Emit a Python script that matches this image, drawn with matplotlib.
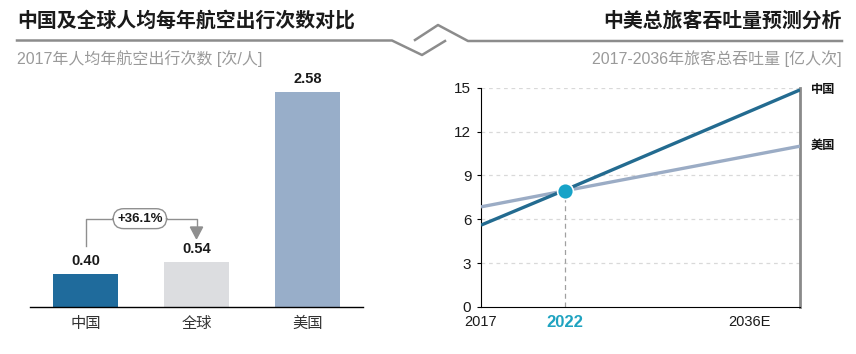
import matplotlib
matplotlib.use("Agg")
import matplotlib.pyplot as plt
from matplotlib.patches import Polygon
from matplotlib.lines import Line2D

plt.rcParams['font.family'] = ['Liberation Sans Narrow', 'Liberation Sans', 'Noto Sans CJK SC', 'DejaVu Sans']

# ---- data ----
bar_categories = ["中国", "全球", "美国"]
bar_values = [0.40, 0.54, 2.58]
bar_labels = ["0.40", "0.54", "2.58"]
growth_label = "+36.1%"

line_years = [2017, 2022, 2036]
china_values = [5.6, 8.0, 14.85]
us_values = [6.85, 7.95, 11.0]
highlight_year = 2022
highlight_value = 7.95
y_ticks = [0, 3, 6, 9, 12, 15]
x_tick_pos = [2017, 2022, 2033]
x_tick_labels = ["2017", "2022", "2036E"]

left_title = "中国及全球人均每年航空出行次数对比"
left_sub = "2017年人均年航空出行次数 [次/人]"
right_title = "中美总旅客吞吐量预测分析"
right_sub = "2017-2036年旅客总吞吐量 [亿人次]"

W, H = 856, 354
fig = plt.figure(figsize=(W / 100, H / 100), dpi=100)

def rect(x0, y_top, x1, y_bot):
    return [x0 / W, 1 - y_bot / H, (x1 - x0) / W, (y_bot - y_top) / H]

def fx(x):
    return x / W

def fy(y):
    return 1 - y / H

# ---- header lines ----
gray = "#8c8c8c"
fig.add_artist(Line2D([fx(17), fx(392), fx(422), fx(445)], [fy(40.5), fy(40.5), fy(55), fy(41)],
                      color=gray, lw=1.8, transform=fig.transFigure))
fig.add_artist(Line2D([fx(415), fx(438), fx(468), fx(842)], [fy(40), fy(25), fy(41), fy(41)],
                      color=gray, lw=1.8, transform=fig.transFigure))

fig.text(fx(17), fy(21), left_title, fontsize=14.3, fontweight='bold', color="#1a1a1a",
         ha='left', va='center')
fig.text(fx(842), fy(21), right_title, fontsize=14.3, fontweight='bold', color="#1a1a1a",
         ha='right', va='center')
fig.text(fx(17), fy(59), left_sub, fontsize=11.5, color="#9a9a9a", ha='left', va='center')
fig.text(fx(842), fy(59), right_sub, fontsize=11.5, color="#9a9a9a", ha='right', va='center')

# ---- bar chart ----
ax1 = fig.add_axes(rect(30, 92, 363, 307))
bar_colors = ["#1f6b9c", "#dcdde0", "#98aec9"]
xs = list(range(len(bar_values)))
ax1.bar(xs, bar_values, width=0.58, color=bar_colors, zorder=2)
ax1.set_xlim(-0.5, 2.5)
ax1.set_ylim(0, 2.58)
for s in ["top", "right", "left"]:
    ax1.spines[s].set_visible(False)
ax1.spines["bottom"].set_color("black")
ax1.spines["bottom"].set_linewidth(1.0)
ax1.set_yticks([])
ax1.set_xticks(xs)
ax1.set_xticklabels(bar_categories, fontsize=11, color="#333333")
ax1.tick_params(axis='x', length=0, pad=7)
for x, v, lab in zip(xs, bar_values, bar_labels):
    ax1.annotate(lab, (x, v), xytext=(0, 4), textcoords='offset points', ha='center',
                 va='bottom', fontsize=10.5, fontweight='bold', color="#1a1a1a")

# growth bracket
bc = "#8f8f8f"
yb_low = 0.40 + 0.33
yb_top = 0.40 + 0.66
ax1.plot([0, 0, 1, 1], [yb_low, yb_top, yb_top, 0.54 + 0.38], color=bc, lw=1.0, zorder=3,
         clip_on=False)
tri = Polygon([[1 - 0.055, 0.54 + 0.42], [1 + 0.055, 0.54 + 0.42], [1, 0.54 + 0.28]],
              closed=True, color=bc, zorder=3)
ax1.add_patch(tri)
ax1.text(0.49, yb_top, growth_label, ha='center', va='center', fontsize=9.5, fontweight='bold',
         color="#1a1a1a", zorder=5,
         bbox=dict(boxstyle="round,pad=0.3,rounding_size=0.8", fc="white", ec="#8f8f8f", lw=1.0))

# ---- line chart ----
ax2 = fig.add_axes(rect(481, 87.7, 800, 307))
ax2.set_xlim(2017, 2036)
ax2.set_ylim(0, 15)
for yt in y_ticks[1:]:
    ax2.axhline(yt, color="#d9d9d9", lw=0.9, ls=(0, (3, 3)), zorder=1)
ax2.plot([2036, 2036], [0, 15], color="#8a8a8a", lw=2.0, zorder=2, clip_on=False)
ax2.plot([highlight_year, highlight_year], [0, highlight_value], color="#a0a0a0", lw=0.9,
         ls=(0, (4, 3)), zorder=2)
ax2.plot(line_years, us_values, color="#9bacc5", lw=2.4, zorder=3, solid_capstyle='butt')
ax2.plot(line_years, china_values, color="#236b90", lw=2.4, zorder=4, solid_capstyle='butt')
ax2.scatter([highlight_year], [highlight_value], s=130, color="#17a3c8", edgecolor="white",
            linewidth=1.2, zorder=6, clip_on=False)
for s in ["top", "right"]:
    ax2.spines[s].set_visible(False)
ax2.spines["left"].set_color("black")
ax2.spines["bottom"].set_color("black")
ax2.set_yticks(y_ticks)
ax2.set_yticklabels([str(v) for v in y_ticks], fontsize=11, color="#1a1a1a")
ax2.tick_params(axis='y', length=3, width=0.8, pad=4)
ax2.set_xticks(x_tick_pos)
ax2.set_xticklabels(x_tick_labels, fontsize=10.5, color="#1a1a1a")
ax2.tick_params(axis='x', length=0, pad=6)
xt = ax2.get_xticklabels()
xt[1].set_color("#1fa3c0")
xt[1].set_fontweight('bold')
xt[1].set_fontsize(12)

ax2.annotate("中国", (2036, china_values[-1]), xytext=(8, 0), textcoords='offset points',
             ha='left', va='center', fontsize=8.8, fontweight='bold', color="#111111",
             annotation_clip=False)
ax2.annotate("美国", (2036, us_values[-1]), xytext=(8, 0), textcoords='offset points',
             ha='left', va='center', fontsize=8.8, fontweight='bold', color="#111111",
             annotation_clip=False)

fig.savefig("out.png", dpi=100)
